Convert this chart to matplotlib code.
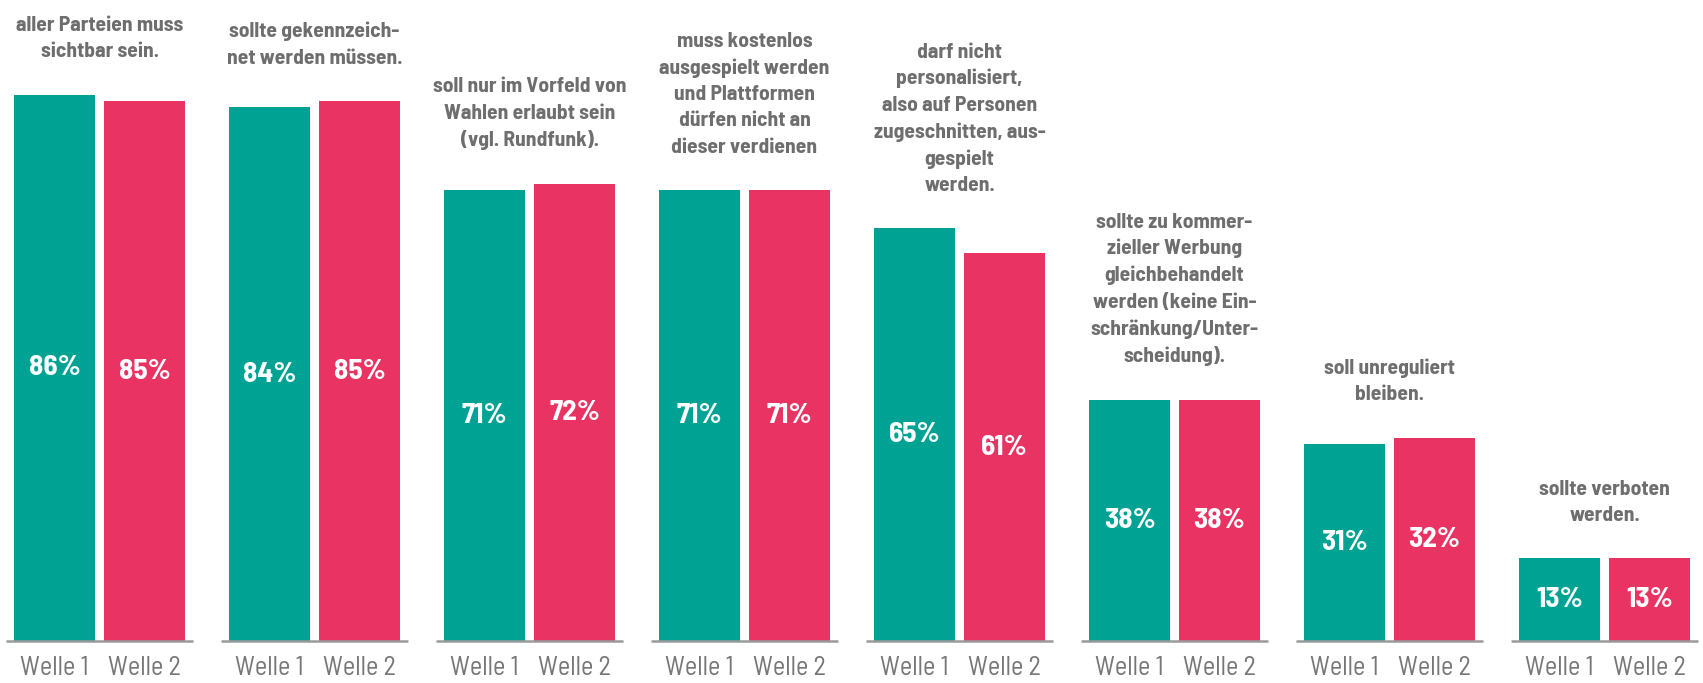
import numpy as np
import matplotlib
matplotlib.use("Agg")
import matplotlib.pyplot as plt

# survey statements (shown above each pair of bars)
statements = [
    "aller Parteien muss\nsichtbar sein.",
    "sollte gekennzeich-\nnet werden müssen.",
    "soll nur im Vorfeld von\nWahlen erlaubt sein\n(vgl. Rundfunk).",
    "muss kostenlos\nausgespielt werden\nund Plattformen\ndürfen nicht an\ndieser verdienen",
    "darf nicht\npersonalisiert,\nalso auf Personen\nzugeschnitten, aus-\ngespielt\nwerden.",
    "sollte zu kommer-\nzieller Werbung\ngleichbehandelt\nwerden (keine Ein-\nschränkung/Unter-\nscheidung).",
    "soll unreguliert\nbleiben.",
    "sollte verboten\nwerden.",
]
waves = ["Welle 1", "Welle 2"]
welle1 = [86, 84, 71, 71, 65, 38, 31, 13]
welle2 = [85, 85, 72, 71, 61, 38, 32, 13]

teal = "#00a393"
pink = "#e83363"
textGray = "#6e6e6e"
labelGray = "#777777"

# condensed DIN-like face if available, otherwise fall back
plt.rcParams['font.family'] = ['Barlow Semi Condensed', 'Fira Sans Condensed', 'DejaVu Sans']

fig = plt.figure(figsize=(17.03, 6.83), dpi=100)
ax = fig.add_axes([0, 42 / 683, 1, 641 / 683])

x = np.arange(len(statements))
offset = 0.209
width = 0.377

bars1 = ax.bar(x - offset, welle1, width, color=teal)
bars2 = ax.bar(x + offset, welle2, width, color=pink)

ax.set_xlim(-0.4628, 7.458)
ax.set_ylim(0, 100.9)
ax.axis('off')

for i in range(len(statements)):
    # short baseline below each pair
    ax.plot([x[i] - 0.433, x[i] + 0.433], [0, 0], color="#9a9a9a", lw=1.8,
            clip_on=False, solid_capstyle='butt')

    # value labels in the middle of each bar
    for xpos, val in [(x[i] - offset, welle1[i]), (x[i] + offset, welle2[i])]:
        ax.text(xpos, val / 2, f"{val}%", ha='center', va='center',
                color='white', fontsize=21, fontweight='bold')

    # wave labels below the axis
    for xpos, w in [(x[i] - offset, waves[0]), (x[i] + offset, waves[1])]:
        ax.annotate(w, (xpos, 0), xytext=(0, -11), textcoords='offset points',
                    ha='center', va='top', color=labelGray, fontsize=19,
                    annotation_clip=False)

    # statement text above the taller bar
    top = max(welle1[i], welle2[i])
    ax.annotate(statements[i], (x[i], top), xytext=(0, 24),
                textcoords='offset points', ha='center', va='bottom',
                color=textGray, fontsize=15.5, fontweight='bold',
                linespacing=1.48, annotation_clip=False)

fig.savefig("out.png", dpi=100)
